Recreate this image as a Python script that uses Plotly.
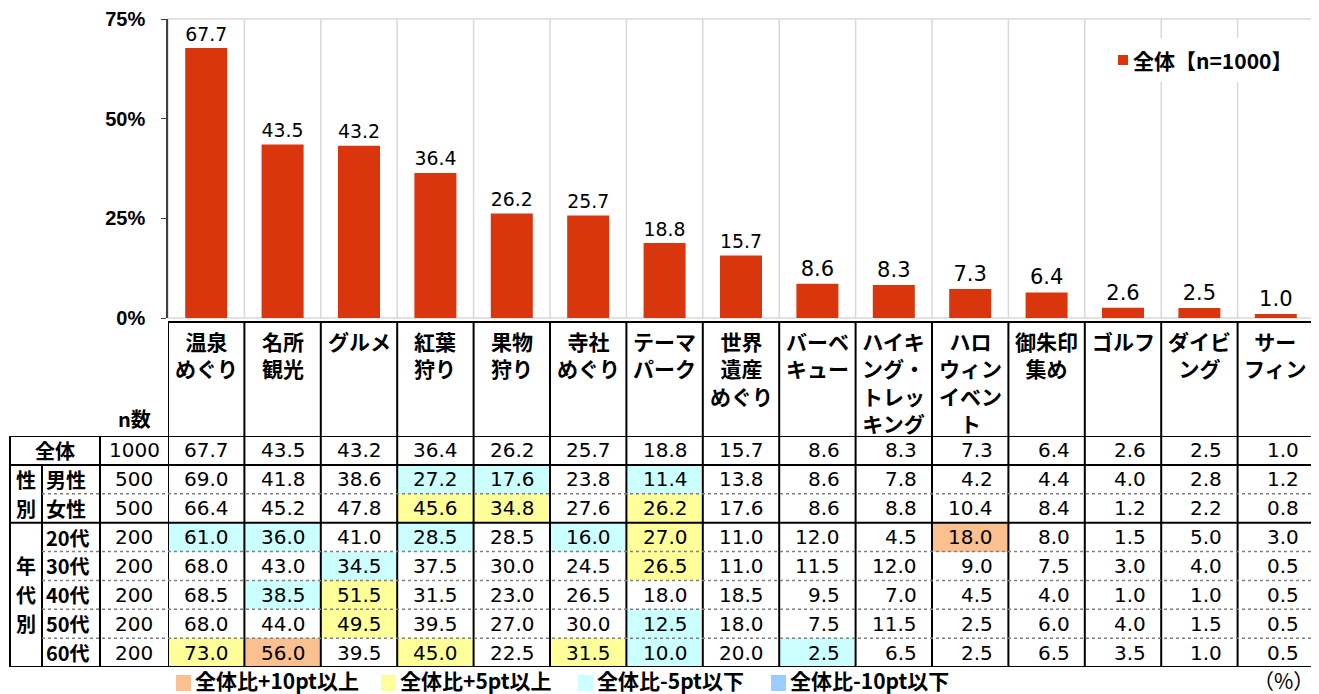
import plotly.graph_objects as go

# ---------------- data ----------------
categories = ['温泉めぐり', '名所観光', 'グルメ', '紅葉狩り', '果物狩り', '寺社めぐり',
              'テーマパーク', '世界遺産めぐり', 'バーベキュー', 'ハイキング・トレッキング',
              'ハロウィンイベント', '御朱印集め', 'ゴルフ', 'ダイビング', 'サーフィン']
header_labels = ['温泉<br>めぐり', '名所<br>観光', 'グルメ', '紅葉<br>狩り', '果物<br>狩り',
                 '寺社<br>めぐり', 'テーマ<br>パーク', '世界<br>遺産<br>めぐり', 'バーベ<br>キュー',
                 'ハイキ<br>ング・<br>トレッ<br>キング', 'ハロ<br>ウィン<br>イベン<br>ト',
                 '御朱印<br>集め', 'ゴルフ', 'ダイビ<br>ング', 'サー<br>フィン']
overall = [67.7, 43.5, 43.2, 36.4, 26.2, 25.7, 18.8, 15.7, 8.6, 8.3, 7.3, 6.4, 2.6, 2.5, 1.0]
male = [69.0, 41.8, 38.6, 27.2, 17.6, 23.8, 11.4, 13.8, 8.6, 7.8, 4.2, 4.4, 4.0, 2.8, 1.2]
female = [66.4, 45.2, 47.8, 45.6, 34.8, 27.6, 26.2, 17.6, 8.6, 8.8, 10.4, 8.4, 1.2, 2.2, 0.8]
age20 = [61.0, 36.0, 41.0, 28.5, 28.5, 16.0, 27.0, 11.0, 12.0, 4.5, 18.0, 8.0, 1.5, 5.0, 3.0]
age30 = [68.0, 43.0, 34.5, 37.5, 30.0, 24.5, 26.5, 11.0, 11.5, 12.0, 9.0, 7.5, 3.0, 4.0, 0.5]
age40 = [68.5, 38.5, 51.5, 31.5, 23.0, 26.5, 18.0, 18.5, 9.5, 7.0, 4.5, 4.0, 1.0, 1.0, 0.5]
age50 = [68.0, 44.0, 49.5, 39.5, 27.0, 30.0, 12.5, 18.0, 7.5, 11.5, 2.5, 6.0, 4.0, 1.5, 0.5]
age60 = [73.0, 56.0, 39.5, 45.0, 22.5, 31.5, 10.0, 20.0, 2.5, 6.5, 2.5, 6.5, 3.5, 1.0, 0.5]
row_labels = ['全体', '男性', '女性', '20代', '30代', '40代', '50代', '60代']
row_n = [1000, 500, 500, 200, 200, 200, 200, 200]
y_ticks = [0, 25, 50, 75]
legend_label = '全体【n=1000】'
key_labels = ['全体比+10pt以上', '全体比+5pt以上', '全体比-5pt以下', '全体比-10pt以下']

rows = [overall, male, female, age20, age30, age40, age50, age60]

# ---------------- style ----------------
# the page body has an 8px margin, so the figure is drawn 8px smaller and positions are
# given in window pixels, converted to paper fractions.
OFF = 8
W, H = 1319 - OFF, 694 - OFF
def px(x): return (x - OFF) / W
def py(y): return 1 - (y - OFF) / H

BAR_COLOR = '#DA360E'
C_CYAN, C_YELLOW, C_ORANGE, C_BLUE = '#CCFFFF', '#FFFF99', '#FAC090', '#99CCFF'
GRID = '#D9D9D9'
CJK = 'Noto Sans CJK JP'
NUM = 'DejaVu Sans, Noto Sans CJK JP'
TICK = 'Liberation Sans, Arial, Noto Sans CJK JP'

X_LEFT, X_RIGHT = 168, 1314
PLOT_TOP, PLOT_BOTTOM = 19, 318
HDR_TOP, DATA_TOP, TBL_BOTTOM = 322, 436, 667
TBL_LEFT, SUB_LEFT, N_LEFT = 10, 42, 100


def code(v, base):
    d = round(v - base, 1)
    if d >= 10:
        return 3
    if d >= 5:
        return 2
    if d <= -10:
        return 4
    if d <= -5:
        return 1
    return 0


z = [[0 if r == 0 else code(v, overall[j]) for j, v in enumerate(row)] for r, row in enumerate(rows)]

fig = go.Figure()

fig.add_trace(go.Bar(
    x=categories, y=overall, marker_color=BAR_COLOR, marker_line_width=0,
    text=[f'{v:.1f}' for v in overall], textposition='outside',
    textfont=dict(family=NUM, size=21, color='black'), cliponaxis=False,
    showlegend=False, hoverinfo='skip', xaxis='x', yaxis='y'))

cs = [[0, '#FFFFFF'], [0.2, '#FFFFFF'], [0.2, C_CYAN], [0.4, C_CYAN],
      [0.4, C_YELLOW], [0.6, C_YELLOW], [0.6, C_ORANGE], [0.8, C_ORANGE],
      [0.8, C_BLUE], [1, C_BLUE]]
fig.add_trace(go.Heatmap(
    x=categories, y=list(range(len(rows))), z=z, colorscale=cs, zmin=-0.5, zmax=4.5,
    showscale=False, hoverinfo='skip', xaxis='x2', yaxis='y2'))

shapes = []
annotations = []

# plot area border and vertical grid lines
shapes.append(dict(type='rect', xref='x domain', yref='y domain', x0=0, x1=1, y0=0, y1=1,
                   line=dict(color=GRID, width=1.5), layer='below'))
for i in range(len(categories) - 1):
    shapes.append(dict(type='line', xref='x', yref='y domain', x0=i + 0.5, x1=i + 0.5, y0=0, y1=1,
                       line=dict(color=GRID, width=1.5), layer='below'))

# legend (top-right)
shapes.append(dict(type='rect', xref='paper', yref='paper', x0=px(1105), x1=px(1295),
                   y0=py(82), y1=py(38), fillcolor='white', line=dict(width=0), layer='above'))
shapes.append(dict(type='rect', xref='paper', yref='paper', x0=px(1118), x1=px(1128),
                   y0=py(65), y1=py(55), fillcolor=BAR_COLOR, line=dict(width=0), layer='above'))
annotations.append(dict(xref='paper', yref='paper', x=px(1131), y=py(60), xanchor='left',
                        yanchor='middle', text=legend_label, showarrow=False,
                        font=dict(family=CJK, size=21, color='black', weight='bold')))

# table: vertical lines of category columns
for j in range(len(categories) + 1):
    shapes.append(dict(type='line', xref='x2', yref='paper', x0=j - 0.5, x1=j - 0.5,
                       y0=py(TBL_BOTTOM), y1=py(HDR_TOP), line=dict(color='black', width=2)))
shapes.append(dict(type='line', xref='x2', yref='paper', x0=-0.5, x1=len(categories) - 0.5,
                   y0=py(HDR_TOP), y1=py(HDR_TOP), line=dict(color='black', width=2)))
# left-side vertical lines
shapes.append(dict(type='line', xref='paper', yref='y2', x0=px(TBL_LEFT), x1=px(TBL_LEFT),
                   y0=-0.5, y1=7.5, line=dict(color='black', width=2)))
shapes.append(dict(type='line', xref='paper', yref='y2', x0=px(N_LEFT), x1=px(N_LEFT),
                   y0=-0.5, y1=7.5, line=dict(color='black', width=2)))
shapes.append(dict(type='line', xref='paper', yref='y2', x0=px(SUB_LEFT), x1=px(SUB_LEFT),
                   y0=0.5, y1=7.5, line=dict(color='black', width=2)))
# horizontal lines
solid_b = [-0.5, 0.5, 2.5, 7.5]
dotted_b = [1.5, 3.5, 4.5, 5.5, 6.5]
for b in solid_b:
    shapes.append(dict(type='line', xref='paper', yref='y2', x0=px(TBL_LEFT), x1=px(X_RIGHT),
                       y0=b, y1=b, line=dict(color='black', width=2)))
for b in dotted_b:
    shapes.append(dict(type='line', xref='paper', yref='y2', x0=px(SUB_LEFT), x1=px(X_RIGHT),
                       y0=b, y1=b, line=dict(color='#7F7F7F', width=1.5, dash='dot')))

# header labels
for cat, lab in zip(categories, header_labels):
    annotations.append(dict(xref='x2', yref='paper', x=cat, y=py(324), xanchor='center',
                            yanchor='top', align='center', text=lab, showarrow=False,
                            font=dict(family=CJK, size=21, color='black', weight='bold')))
annotations.append(dict(xref='paper', yref='paper', x=px(134), y=py(435), xanchor='center',
                        yanchor='bottom', text='n数', showarrow=False,
                        font=dict(family=CJK, size=20, color='black', weight='bold')))

# cell values
for r, row in enumerate(rows):
    for cat, v in zip(categories, row):
        annotations.append(dict(xref='x2', yref='y2', x=cat, y=r, xanchor='right', xshift=25,
                                yanchor='middle', text=f'{v:.1f}', showarrow=False,
                                font=dict(family=NUM, size=20, color='black')))
    annotations.append(dict(xref='paper', yref='y2', x=px(134), y=r, xanchor='center',
                            yanchor='middle', text=str(row_n[r]), showarrow=False,
                            font=dict(family=NUM, size=20, color='black')))
    if r == 0:
        annotations.append(dict(xref='paper', yref='y2', x=px(55), y=r, xanchor='center',
                                yanchor='middle', text=row_labels[r], showarrow=False,
                                font=dict(family=CJK, size=20, color='black', weight='bold')))
    else:
        annotations.append(dict(xref='paper', yref='y2', x=px(44), y=r, xanchor='left',
                                yanchor='middle', text=row_labels[r], showarrow=False,
                                font=dict(family=CJK, size=20, color='black', weight='bold')))

# group labels
for r, ch in [(1, '性'), (2, '別'), (4, '年'), (5, '代'), (6, '別')]:
    annotations.append(dict(xref='paper', yref='y2', x=px(26), y=r, xanchor='center',
                            yanchor='middle', text=ch, showarrow=False,
                            font=dict(family=CJK, size=20, color='black', weight='bold')))

# bottom key
key_colors = [C_ORANGE, C_YELLOW, C_CYAN, C_BLUE]
key_x = [176, 381, 578, 771]
for kx, kc, kl in zip(key_x, key_colors, key_labels):
    shapes.append(dict(type='rect', xref='paper', yref='paper', x0=px(kx), x1=px(kx + 15),
                       y0=py(691), y1=py(675), fillcolor=kc, line=dict(width=0)))
    annotations.append(dict(xref='paper', yref='paper', x=px(kx + 17), y=py(680), xanchor='left',
                            yanchor='middle', text=kl, showarrow=False,
                            font=dict(family=CJK, size=21, color='black', weight='bold')))
annotations.append(dict(xref='paper', yref='paper', x=px(1316), y=py(680), xanchor='right',
                        yanchor='middle', text='（%）', showarrow=False,
                        font=dict(family=CJK, size=21, color='black')))

fig.update_layout(
    template='none',
    width=W, height=H, autosize=False,
    margin=dict(l=0, r=0, t=0, b=0, pad=0, autoexpand=False),
    paper_bgcolor='white', plot_bgcolor='white',
    bargap=0.45, showlegend=False,
    xaxis=dict(domain=[px(X_LEFT), px(X_RIGHT)], type='category', range=[-0.5, len(categories) - 0.5],
               showticklabels=False, showgrid=False, zeroline=False, showline=False, ticks='',
               automargin=False),
    yaxis=dict(domain=[py(PLOT_BOTTOM), py(PLOT_TOP)], range=[0, 75], tickvals=y_ticks,
               ticktext=[f'{t}%' for t in y_ticks], showgrid=False, zeroline=False,
               showline=True, linecolor='#404040', linewidth=1.5, ticks='outside', ticklen=5,
               tickcolor='#404040', ticklabelstandoff=12, automargin=False,
               tickfont=dict(family=TICK, size=20, color='black', weight='bold')),
    xaxis2=dict(domain=[px(X_LEFT), px(X_RIGHT)], type='category', range=[-0.5, len(categories) - 0.5],
                anchor='y2', visible=False, automargin=False),
    yaxis2=dict(domain=[py(TBL_BOTTOM), py(DATA_TOP)], range=[7.5, -0.5], anchor='x2', visible=False,
                automargin=False),
    shapes=shapes, annotations=annotations,
)

fig.write_html('out.html')
